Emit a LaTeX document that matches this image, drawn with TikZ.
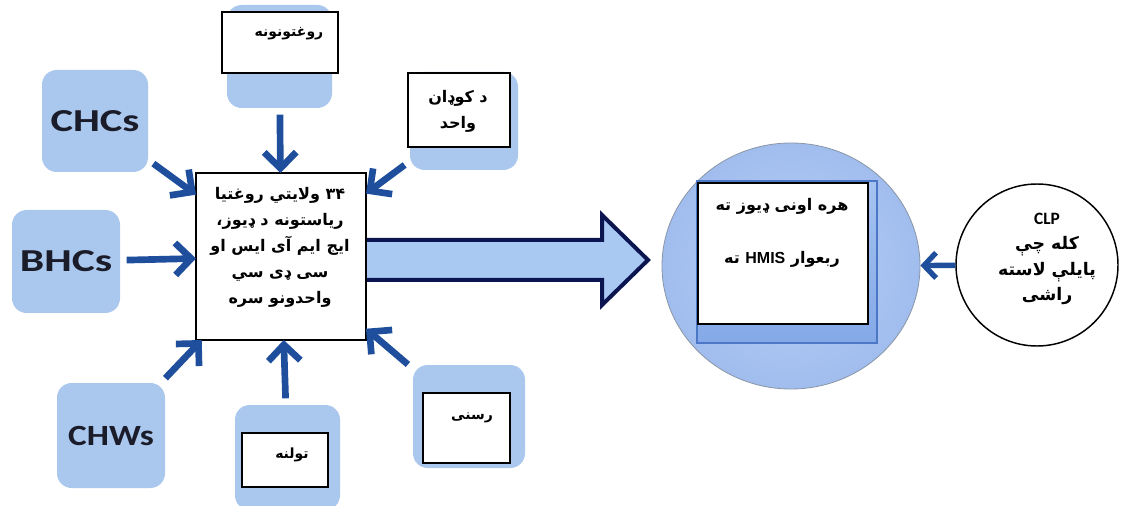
\documentclass[tikz,border=0pt]{standalone}
\usepackage{fontspec}
\usepackage{graphicx}
\usetikzlibrary{arrows.meta,shapes.geometric}
\setmainfont{Carlito}
\newfontfamily\engfont{Carlito}
\newfontfamily\libfont{Liberation Sans}
\newfontfamily\arabicfont[Script=Arabic]{DejaVu Sans}
\TeXXeTstate=1
\definecolor{lblue}{HTML}{AAC8EE}
\definecolor{arrblue}{HTML}{1E4E9C}
\definecolor{navy}{HTML}{0B1650}
\definecolor{bigfill}{HTML}{A9C9F2}
\definecolor{labtext}{HTML}{1B1C2A}
\definecolor{cin}{HTML}{B9D0F5}
\definecolor{cout}{HTML}{A0BDEE}
\definecolor{circgray}{HTML}{8A96A6}
\definecolor{sqtop}{HTML}{A6C3F0}
\definecolor{sqbot}{HTML}{84A9E8}
\definecolor{sqdraw}{HTML}{4C76C6}
\newcommand\ar[1]{\beginR #1\endR}
\newcommand\arb{\arabicfont\bfseries}
\tikzset{
  lbox/.style={fill=lblue, rounded corners=11pt, inner sep=0pt, outer sep=0pt, text=labtext},
  wbox/.style={draw=black, line width=1.2pt, fill=white, inner sep=0pt, outer sep=0pt},
  arr/.style={draw=arrblue, line width=5pt, shorten <=5pt, -{Straight Barb[length=12pt,width=24pt]}},
  arrclp/.style={draw=arrblue, line width=4pt, -{Straight Barb[length=9pt,width=19pt]}},
  eng/.style={font=\engfont\bfseries\fontsize{24}{28}\selectfont},
  artxt/.style={font=\arb\fontsize{12}{19.5}\selectfont, align=center, inner sep=0pt},
  smalltxt/.style={font=\arb\fontsize{10.5}{16}\selectfont, align=center, inner sep=0pt}
}
\begin{document}
\begin{tikzpicture}[x=0.75pt,y=-0.75pt]
\fill[white] (0,0) rectangle (1122,506);
\useasboundingbox (0,0) rectangle (1122,506);

% light blue boxes
\node[lbox, minimum width=79.5pt, minimum height=76.5pt, eng] (chcs) at (95,121) {\scalebox{1.33}[1]{CHCs}};
\node[lbox, minimum width=81pt, minimum height=77.25pt, eng] (bhcs) at (66,261.5) {\scalebox{1.36}[1]{BHCs}};
\node[lbox, minimum width=81pt, minimum height=78.75pt, font=\engfont\bfseries\fontsize{22}{26}\selectfont] (chws) at (111,435.5) {\scalebox{1.2}[1]{CHWs}};
\node[lbox, minimum width=78.75pt, minimum height=77.25pt] (hospL) at (279.5,56.5) {};
\node[lbox, minimum width=81pt, minimum height=73.5pt] (unitL) at (464,121) {};
\node[lbox, minimum width=84pt, minimum height=77.25pt] (mediaL) at (469,416.5) {};
\node[lbox, minimum width=78.75pt, minimum height=78.75pt] (commL) at (287.5,457.5) {};

% white label boxes
\node[wbox, minimum width=87pt, minimum height=45.75pt] (hospW) at (280,42.5) {};
\node[smalltxt] (hospT) at (289,34) {\ar{روغتونونه}};
\node[wbox, minimum width=76.5pt, minimum height=55.5pt] (unitW) at (459,110) {};
\node[artxt] (unitT) at (458,111) {\ar{د کوډان}\\ \ar{واحد}};
\node[wbox, minimum width=65.25pt, minimum height=52.5pt] (mediaW) at (466.5,428) {};
\node[smalltxt] (mediaT) at (472,418) {\ar{رسنی}};
\node[wbox, minimum width=64.5pt, minimum height=40.5pt] (commW) at (285,460) {};
\node[smalltxt] (commT) at (292,455) {\ar{تولنه}};

% big arrow
\draw[navy, line width=3pt, fill=bigfill, line join=miter]
  (360,240) -- (602,240) -- (602,215) -- (648,260) -- (602,305) -- (602,280) -- (360,280);

% central box
\node[wbox, minimum width=127.5pt, minimum height=125.25pt] (c) at (281,256.5) {};
\node[artxt] (cT) at (280,247) {\ar{۳۴ ولایتي روغتیا}\\ \ar{ریاستونه د ډیوز،}\\ \ar{ایج ایم آی ایس او}\\ \ar{سی ډی سي}\\ \ar{واحدونو سره}};

% connectors into the central box
\draw[arr] (chcs) -- (c);
\draw[arr] (bhcs) -- (c);
\draw[arr] (chws) -- (c);
\draw[arr] (hospL) -- (c);
\draw[arr] (unitL) -- (c);
\draw[arr] (mediaL) -- (c);
\draw[arr] (commL) -- (c);

% big circle with report box
\node[ellipse, minimum width=193.5pt, minimum height=184.5pt, draw=circgray, line width=0.6pt,
      inner color=cin, outer color=cout, inner sep=0pt] (bigc) at (791,266) {};
\node[minimum width=135pt, minimum height=121.5pt, top color=sqtop, bottom color=sqbot,
      draw=sqdraw, line width=0.8pt, inner sep=0pt] (bsq) at (787,262) {};
\node[wbox, minimum width=127.5pt, minimum height=105.75pt] (rw) at (783,253.5) {};
\node[artxt] (rw1) at (782,206) {\ar{هره اونی ډیوز ته}};
\node[artxt] (rw2) at (782,259) {\ar{ربعوار {\libfont\bfseries HMIS} ته}};

% CLP circle
\node[circle, draw=black, line width=1.1pt, fill=white, minimum size=121.5pt, inner sep=0pt] (clp) at (1037,265) {};
\node[font=\arb\fontsize{13}{19}\selectfont, align=center, inner sep=0pt] (clpT) at (1047,259)
  {{\engfont\bfseries CLP}\\ \ar{کله چې}\\ \ar{پایلې لاسته}\\ \ar{راشی}};
\draw[arrclp] (clp) -- (bigc);
\end{tikzpicture}
\end{document}
